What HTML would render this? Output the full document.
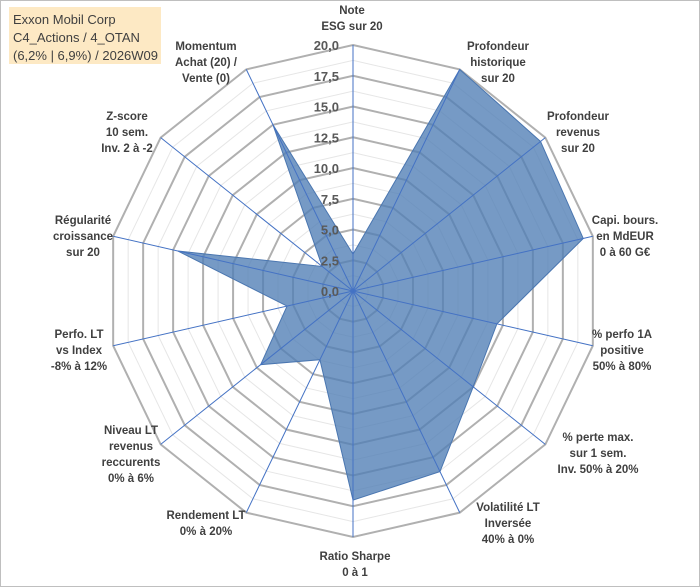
<!DOCTYPE html>
<html><head><meta charset="utf-8"><style>
body{margin:0;background:#fff;}
#wrap{position:relative;width:700px;height:587px;overflow:hidden;font-family:"Liberation Sans",sans-serif;}
svg text{font-family:"Liberation Sans",sans-serif;}
</style></head><body>
<div id="wrap">
<svg id="chart" width="700" height="587">
<rect x="0.5" y="0.5" width="699" height="586" fill="#fff" stroke="#bfbfbf"/>
<rect x="9" y="7" width="152" height="57" fill="#fde9c4"/>
<text x="13" y="24" font-size="13" fill="#404040">Exxon Mobil Corp</text>
<text x="13" y="42" font-size="13" fill="#404040">C4_Actions / 4_OTAN</text>
<text x="13" y="60" font-size="13" fill="#404040">(6,2% | 6,9%) / 2026W09</text>
<g id="grid"></g><g id="series"></g><g id="axes"></g><g id="ticks"></g><g id="labels"></g>
</svg>
</div>
<script>
const categories=[["Note","ESG sur 20"],["Profondeur","historique","sur 20"],["Profondeur","revenus","sur 20"],["Capi. bours.","en MdEUR","0 à 60 G€"],["% perfo 1A","positive","50% à 80%"],["% perte max.","sur 1 sem.","Inv. 50% à 20%"],["Volatilité LT","Inversée","40% à 0%"],["Ratio Sharpe","0 à 1"],["Rendement LT","0% à 20%"],["Niveau LT","revenus","reccurents","0% à 6%"],["Perfo. LT","vs Index","-8% à 12%"],["Régularité","croissance","sur 20"],["Z-score","10 sem.","Inv. 2 à -2"],["Momentum","Achat (20) /","Vente (0)"]];
const values=[3,20,19.5,19.2,12,12.5,16.3,17,6.2,9.6,5.5,14.6,3.2,15];
const tickLabels=["0,0","2,5","5,0","7,5","10,0","12,5","15,0","17,5","20,0"];
const labelCenters=[[352,10],[498,46],[578,116],[625,220],[622,334],[598,437],[508,507],[355,556],[206,515],[131,430],[79,334],[83,220],[127,116],[206,46]];
const cx=353,cy=291,R=246,maxV=20,N=categories.length;
const ns="http://www.w3.org/2000/svg";
function pt(i,v){const a=i*2*Math.PI/N;const r=v/maxV*R;return [cx+r*Math.sin(a),cy-r*Math.cos(a)];}
function mk(tag,attrs,parent){const e=document.createElementNS(ns,tag);for(const k in attrs)e.setAttribute(k,attrs[k]);parent.appendChild(e);return e;}
const grid=document.getElementById('grid');
for(let s=1;s<=16;s++){const v=s*1.25;const p=[];for(let i=0;i<N;i++)p.push(pt(i,v).join(','));
 const major=s%2===0;
 const e=mk('polygon',{points:p.join(' '),fill:'none',stroke:major?'#b0b0b0':'#e6e6e6','stroke-width':major?2:1},grid);
 
 }
const sp=values.map((v,i)=>pt(i,v).join(',')).join(' ');
const poly=mk('polygon',{points:sp,fill:'#4f7eb5','fill-opacity':0.78,stroke:'#4a76b0','stroke-width':1},document.getElementById('series'));


const axes=document.getElementById('axes');
for(let i=0;i<N;i++){const [x,y]=pt(i,maxV);
 const l=mk('line',{x1:cx,y1:cy,x2:x,y2:y,stroke:'#4472c4','stroke-width':1},axes);
 
 }
const ticks=document.getElementById('ticks');
tickLabels.forEach((t,k)=>{const y=cy-(k*2.5)/maxV*R;
 const e=mk('text',{x:339,y:y+5,'text-anchor':'end','font-size':13,'font-weight':'bold',fill:'#595959'},ticks);e.textContent=t;
 
 });
const labels=document.getElementById('labels');
categories.forEach((lines,i)=>{const [x,y]=labelCenters[i];
 const g=mk('text',{'text-anchor':'middle','font-size':11.5,'font-weight':'bold',fill:'#404040'},labels);
 
 
 lines.forEach((ln,j)=>{const ts=mk('tspan',{x:x,y:y+4+j*16},g);ts.textContent=ln;});});
</script>
</body></html>
